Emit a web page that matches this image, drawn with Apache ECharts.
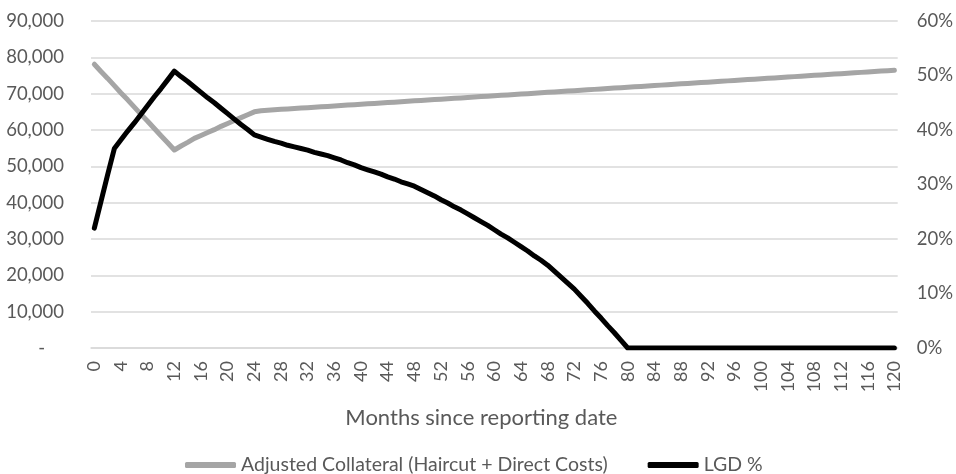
<!DOCTYPE html>
<html>
<head>
<meta charset="utf-8">
<script src="https://cdn.jsdelivr.net/npm/echarts@6/dist/echarts.min.js"></script>
<style>
html,body{margin:0;padding:0;background:#fff;}
#chart{width:956px;height:474px;}
</style>
</head>
<body>
<div id="chart"></div>
<script>
// Months since reporting date
var months = [0,1,2,3,4,5,6,7,8,9,10,11,12,13,14,15,16,17,18,19,20,21,22,23,24,25,26,27,28,29,30,31,32,33,34,35,36,37,38,39,40,41,42,43,44,45,46,47,48,49,50,51,52,53,54,55,56,57,58,59,60,61,62,63,64,65,66,67,68,69,70,71,72,73,74,75,76,77,78,79,80,81,82,83,84,85,86,87,88,89,90,91,92,93,94,95,96,97,98,99,100,101,102,103,104,105,106,107,108,109,110,111,112,113,114,115,116,117,118,119,120];

// Adjusted Collateral (Haircut + Direct Costs)
var adjustedCollateral = [
78100,76100,74200,72200,70200,68300,66300,64300,62400,60400,58400,56500,54500,
55600,56600,57700,58500,59300,60100,61000,61800,62600,63400,64200,65000,
65300,65450,65570,65680,65800,65920,66030,66150,66270,66390,66500,66620,66740,66850,66970,67090,
67200,67320,67440,67560,67670,67790,67910,68020,68140,68260,68380,68490,68610,68730,68840,68960,
69080,69190,69310,69430,69550,69660,69780,69900,70010,70130,70250,70360,70480,70600,70720,70830,
70950,71070,71180,71300,71420,71530,71650,71770,71890,72000,72120,72240,72350,72470,72590,72700,
72820,72940,73060,73170,73290,73410,73520,73640,73760,73870,73990,74110,74230,74340,74460,74580,
74690,74810,74930,75040,75160,75280,75400,75510,75630,75750,75860,75980,76100,76210,76330,76450
];

// LGD % (percent)
var lgdPct = [
22.0,26.9,31.8,36.6,38.2,39.8,41.3,42.9,44.5,46.1,47.6,49.2,50.8,
49.8,48.9,47.9,46.9,45.9,45.0,44.0,43.0,42.0,41.0,40.1,39.1,
38.7,38.3,37.9,37.6,37.2,36.9,36.6,36.3,35.9,35.6,35.3,34.9,34.5,34.0,33.6,33.1,
32.7,32.3,31.9,31.4,31.0,30.5,30.1,29.7,29.1,28.5,27.9,27.2,26.6,25.9,25.3,24.6,
23.9,23.2,22.5,21.7,20.9,20.2,19.4,18.6,17.8,16.9,16.1,15.2,14.1,13.0,11.9,10.8,
9.5,8.2,6.8,5.5,4.1,2.8,1.4,0,
0,0,0,0,0,0,0,0,0,0,0,0,0,0,0,0,0,0,0,0,
0,0,0,0,0,0,0,0,0,0,0,0,0,0,0,0,0,0,0,0
];

var seriesNames = ['Adjusted Collateral (Haircut + Direct Costs)', 'LGD %'];
var xAxisTitle = 'Months since reporting date';

var FONT = 'Lato';
var TXT = '#595959';
var chart = echarts.init(document.getElementById('chart'));
chart.setOption({
  animation: false,
  backgroundColor: '#ffffff',
  textStyle: {fontFamily: FONT},
  grid: {left: 91, right: 57, top: 21, bottom: 126, containLabel: false},
  legend: {
    left: 180, top: 450,
    itemWidth: 51, itemHeight: 6, itemGap: 40,
    icon: 'roundRect',
    textStyle: {fontFamily: FONT, fontSize: 19.5, color: TXT},
    data: seriesNames
  },
  xAxis: {
    type: 'category',
    data: months.map(String),
    boundaryGap: true,
    axisLine: {show: true, lineStyle: {color: '#d9d9d9', width: 1.5}},
    axisTick: {show: false},
    axisLabel: {interval: 3, rotate: 90, margin: 13, fontFamily: FONT, fontSize: 18, color: TXT},
    name: xAxisTitle,
    nameLocation: 'middle',
    nameGap: 59,
    nameTextStyle: {fontFamily: FONT, fontSize: 22, color: TXT, padding: [0, 26, 0, 0]}
  },
  yAxis: [{
    type: 'value', min: 0, max: 90000, interval: 10000,
    axisLine: {show: false}, axisTick: {show: false},
    splitLine: {lineStyle: {color: '#d9d9d9', width: 1.5}},
    axisLabel: {margin: 27, fontFamily: FONT, fontSize: 18.5, color: TXT,
      formatter: function (v) { return v === 0 ? '-    ' : v.toLocaleString('en-US'); }}
  }, {
    type: 'value', min: 0, max: 60, interval: 10,
    axisLine: {show: false}, axisTick: {show: false},
    splitLine: {show: false},
    axisLabel: {margin: 19, fontFamily: FONT, fontSize: 18.5, color: TXT,
      formatter: function (v) { return v + '%'; }}
  }],
  series: [{
    name: seriesNames[0], type: 'line', data: adjustedCollateral, yAxisIndex: 0,
    symbol: 'none', smooth: false,
    lineStyle: {color: '#a5a5a5', width: 5, cap: 'round', join: 'round'},
    itemStyle: {color: '#a5a5a5'}
  }, {
    name: seriesNames[1], type: 'line', data: lgdPct, yAxisIndex: 1,
    symbol: 'none', smooth: false,
    lineStyle: {color: '#000000', width: 5, cap: 'round', join: 'round'},
    itemStyle: {color: '#000000'}
  }]
});
</script>
</body>
</html>
